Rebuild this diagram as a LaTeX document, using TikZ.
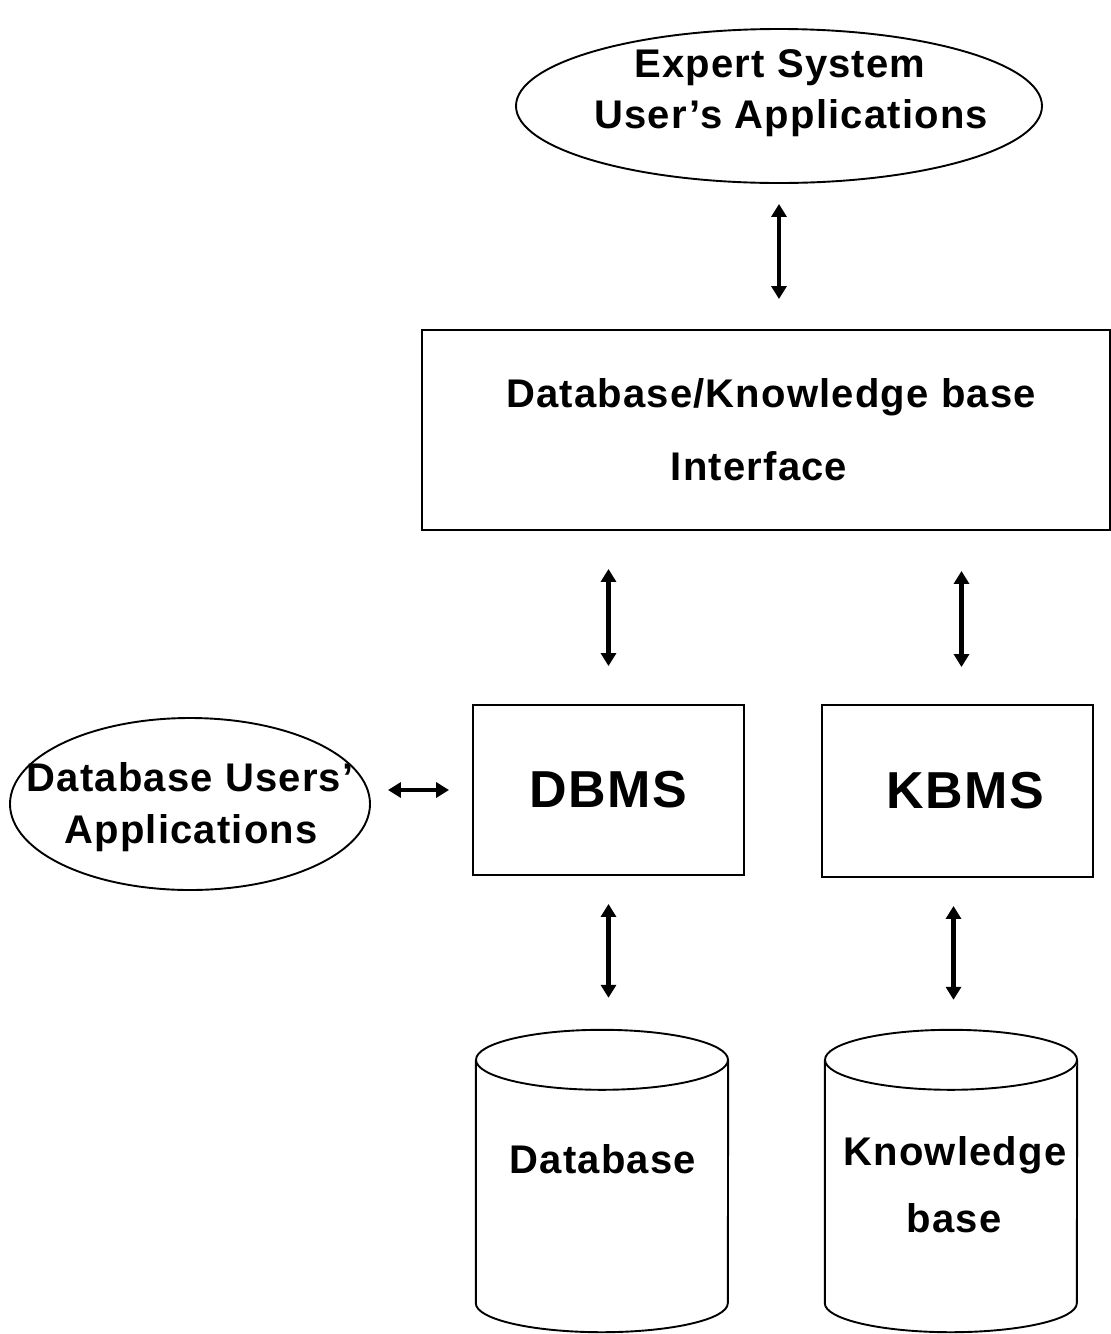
\documentclass[tikz,border=0pt]{standalone}
\usepackage{fontspec}
\setmainfont{Liberation Sans}[LetterSpace=3]
\usetikzlibrary{arrows.meta,shapes.geometric}
\begin{document}
\begin{tikzpicture}[x=1pt,y=-1pt,
  txt/.style={font=\fontsize{40}{48}\selectfont\bfseries, inner sep=0pt},
  big/.style={font=\fontsize{52}{60}\selectfont\bfseries},
  box/.style={draw, line width=1.9pt, rectangle, inner sep=0pt},
  ell/.style={draw, line width=1.9pt, ellipse, inner sep=0pt},
  cyl/.style={inner sep=0pt, minimum width=252pt, minimum height=302pt},
  biarrow/.style={line width=4.5pt, {Triangle[width=15pt,length=13pt]}-{Triangle[width=15pt,length=13pt]}}]
\useasboundingbox (0,0) rectangle (1111,1334);

% top ellipse
\node[ell, minimum width=526pt, minimum height=154pt] (es) at (779,106) {};
\node[txt, anchor=base] (es1) at (780,77) {Expert System};
\node[txt, anchor=base] (es2) at (791,128) {User's Applications};

% interface box
\node[box, minimum width=688pt, minimum height=200pt] (iface) at (766,430) {};
\node[txt, anchor=base] (if1) at (771,407) {Database/Knowledge base};
\node[txt, anchor=base] (if2) at (759,480) {Interface};

% left ellipse
\node[ell, minimum width=360pt, minimum height=172pt] (dbu) at (190,804) {};
\node[txt, anchor=base] (dbu1) at (190,791) {Database Users'};
\node[txt, anchor=base] (dbu2) at (191,843) {Applications};

% DBMS / KBMS
\node[box, big, minimum width=271pt, minimum height=170pt] (dbms) at (608.5,790) {DBMS};
\node[box, big, minimum width=271pt, minimum height=172pt] (kbms) at (957.5,791) {\hspace{15pt}KBMS};

% cylinders
\node[cyl] (db) at (602,1181) {};
\node[cyl] (kb) at (951,1181) {};
\foreach \n in {db,kb}{
  \draw[line width=1.9pt] ([yshift=-30pt]\n.north west) -- ([yshift=29pt]\n.south west)
     arc[start angle=180,end angle=360,x radius=126pt,y radius=29pt] -- ([yshift=-30pt]\n.north east);
  \draw[line width=1.9pt] ([yshift=-30pt]\n.north) ellipse [x radius=126pt, y radius=30pt];
}
\node[txt, anchor=base] (dbt) at (603,1173) {Database};
\node[txt, anchor=base] (kbt1) at (955,1165) {Knowledge};
\node[txt, anchor=base] (kbt2) at (954,1232) {base};

% arrows
\draw[biarrow, shorten <=20pt, shorten >=30pt] (es.south) -- (es.south |- iface.north);
\draw[biarrow, shorten <=38pt, shorten >=38pt] (dbms.north |- iface.south) -- (dbms.north);
\draw[biarrow, shorten <=40pt, shorten >=37pt] ([xshift=4pt]kbms.north |- iface.south) -- ([xshift=4pt]kbms.north);
\draw[biarrow, shorten <=17pt, shorten >=23pt] (dbu.east |- dbms.west) -- (dbms.west);
\draw[biarrow, shorten <=28pt, shorten >=32pt] (dbms.south) -- (dbms.south |- db.north);
\draw[biarrow, shorten <=28pt, shorten >=30pt] ([xshift=-4pt]kbms.south) -- ([xshift=-4pt]kbms.south |- kb.north);
\end{tikzpicture}
\end{document}
